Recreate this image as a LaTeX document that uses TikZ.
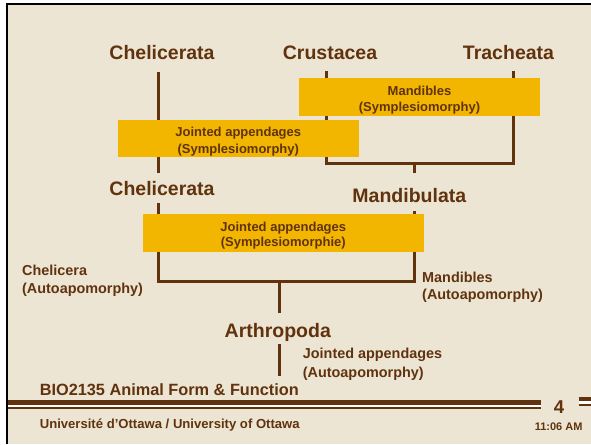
\documentclass[tikz,border=0pt]{standalone}
\usepackage{fontspec}
\setmainfont{Liberation Sans}
\usepackage{xcolor}

\definecolor{slidebg}{RGB}{237,229,211}
\definecolor{bark}{RGB}{96,51,14}
\definecolor{gold}{RGB}{242,181,0}
\newcommand{\charstrut}{\rule{0pt}{15.5pt}}

\begin{document}
\begin{tikzpicture}[x=1pt,y=-1pt]
    \tikzstyle{taxon}=[text=bark,font=\bfseries\fontsize{19.5}{22}\selectfont,inner sep=0,text height=14pt,text depth=0pt]
    \tikzstyle{trait}=[text=bark,font=\bfseries\fontsize{14.4}{18}\selectfont,align=left,inner sep=0,anchor=west]
    \tikzstyle{charbox}=[fill=gold,text=bark,font=\bfseries\fontsize{13}{16.5}\selectfont,align=center,inner sep=0]
    \tikzstyle{branch}=[draw=bark,line width=3pt]
    \tikzstyle{footer}=[text=bark,inner sep=0]
    % slide frame
    \useasboundingbox (0,0) rectangle (591,444);
    \fill[white] (0,0) rectangle (591,444);
    \fill[slidebg] (7.7,5.5) rectangle (591,444);
    \draw[black,line width=2pt] (6.7,444) -- (6.7,4.5) -- (591,4.5);
    % taxa
    \node[taxon] (chelA) at (162,52.2) {Chelicerata};
    \node[taxon] (crus) at (330,52.2) {Crustacea};
    \node[taxon] (trach) at (508.5,52.2) {Tracheata};
    \node[taxon] (chelB) at (162,188.3) {Chelicerata};
    \node[taxon] (mandi) at (409.3,195.3) {Mandibulata};
    \node[taxon] (arthro) at (277.8,330.7) {Arthropoda};
    % branch ends
    \coordinate (chelA-foot) at (158.5,72);
    \coordinate (chelB-head) at (158.5,172.7);
    \coordinate (chelB-foot) at (158.5,203);
    \coordinate (crus-foot) at (326.4,71);
    \coordinate (trach-foot) at (513,71);
    \coordinate (mandi-fork) at (414.5,163.5);
    \coordinate (mandi-head) at (414.5,172.7);
    \coordinate (mandi-foot) at (414.5,210.7);
    \coordinate (arthro-fork) at (279,281.8);
    \coordinate (arthro-head) at (279,313);
    \coordinate (arthro-foot) at (279,344);
    \coordinate (arthro-root) at (279,376);
    \draw[branch] (chelA-foot) -- (chelB-head);
    \draw[branch] (crus-foot) |- (mandi-fork) -| (trach-foot);
    \draw[branch] (mandi-fork) -- (mandi-head);
    \draw[branch] (chelB-foot) |- (arthro-fork) -| (mandi-foot);
    \draw[branch] (arthro-fork) -- (arthro-head);
    \draw[branch] (arthro-foot) -- (arthro-root);
    % characters
    \node[charbox,minimum width=241pt,minimum height=38pt] (mandChar) at (419.5,97) {\charstrut Mandibles\\(Symplesiomorphy)};
    \node[charbox,minimum width=240.5pt,minimum height=37.3pt] (jointChar) at (238.3,138.7) {\charstrut Jointed appendages\\(Symplesiomorphy)};
    \node[charbox,minimum width=281.5pt,minimum height=37.7pt,font=\bfseries\fontsize{13}{15}\selectfont] (jointShared) at (283.3,232.8) {\charstrut Jointed appendages\\(Symplesiomorphie)};
    \node[trait] (chelicera) at (22,280.5) {Chelicera\\(Autoapomorphy)};
    \node[trait,font=\bfseries\fontsize{14.4}{17}\selectfont] (mandibles) at (422,287) {Mandibles\\(Autoapomorphy)};
    \node[trait,font=\bfseries\fontsize{14.4}{18.7}\selectfont] (jointed) at (302.7,364) {Jointed appendages\\(Autoapomorphy)};
    % footer
    \fill[bark] (7.7,400.3) rectangle (540.7,405);
    \fill[white] (7.7,405) rectangle (540.7,407.3);
    \fill[bark] (7.7,407.3) rectangle (540.7,409.3);
    \fill[bark] (579,397.3) rectangle (591,401.3);
    \fill[white] (579,401.3) rectangle (591,404);
    \fill[bark] (579,404) rectangle (591,406);
    \node[footer,anchor=base west,font=\bfseries\fontsize{16.3}{18}\selectfont] (course) at (39.6,395) {BIO2135 Animal Form \& Function};
    \node[footer,anchor=base west,font=\bfseries\fontsize{13.1}{15}\selectfont] (univ) at (39.6,428.3) {Université d’Ottawa / University of Ottawa};
    \node[footer,anchor=base,font=\bfseries\fontsize{18.6}{20}\selectfont] (pagenum) at (559,413.3) {4};
    \node[footer,anchor=base,font=\bfseries\fontsize{11}{13}\selectfont] (clock) at (558.6,430) {11:06 AM};
\end{tikzpicture}
\end{document}
